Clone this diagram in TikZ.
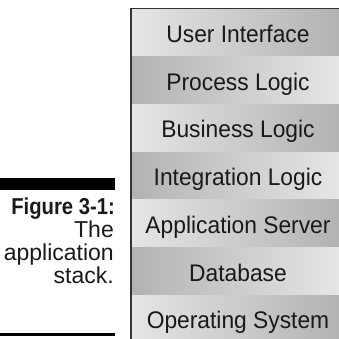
\documentclass[tikz,border=0pt]{standalone}
\usepackage{fontspec}
\setmainfont{Liberation Sans}
\newfontfamily\labfont[FakeStretch=0.95]{Liberation Sans}
\newfontfamily\capbold[FakeStretch=0.88]{Liberation Sans Bold}
\begin{document}
\begin{tikzpicture}[x=1pt,y=-1pt,
  rowlight/.style={left color=black!10, right color=black!30, draw=none},
  rowdark/.style={left color=black!30, right color=black!10, draw=none},
  lab/.style={anchor=base, inner sep=0pt, text=black!90, font=\labfont\fontsize{24}{26}\selectfont},
  captxt/.style={anchor=base east, inner sep=0pt, text=black!90, font=\fontsize{23}{26}\selectfont},
  bar/.style={fill=black, draw=none}]
\useasboundingbox (0,0) rectangle (339,339);
% rows
\path[rowlight] (131,9) rectangle (339,56.7);
\path[rowdark]  (131,56.7) rectangle (339,104.4);
\path[rowlight] (131,104.4) rectangle (339,152.1);
\path[rowdark]  (131,152.1) rectangle (339,199.8);
\path[rowlight] (131,199.8) rectangle (339,247.5);
\path[rowdark]  (131,247.5) rectangle (339,295.2);
\path[rowlight] (131,295.2) rectangle (339,339);
\draw[line width=1.6pt, black!80] (131,339) -- (131,8.5) -- (339,8.5);
% labels
\node[lab] (l1) at (238,42.5) {User Interface};
\node[lab] (l2) at (238,90.2) {Process Logic};
\node[lab] (l3) at (238,137.9) {Business Logic};
\node[lab] (l4) at (238,185.6) {Integration Logic};
\node[lab] (l5) at (238,233.3) {Application Server};
\node[lab] (l6) at (238,281) {Database};
\node[lab] (l7) at (238,328.7) {Operating System};
% caption
\path[bar] (0,178) rectangle (115,190);
\path[bar] (0,332.5) rectangle (115,336);
\node[captxt, font=\capbold\fontsize{23}{26}\selectfont] (c1) at (115,214) {Figure 3-1:};
\node[captxt] (c2) at (114,237) {The};
\node[captxt] (c3) at (114,260) {application};
\node[captxt] (c4) at (114,283) {stack.};
\end{tikzpicture}
\end{document}
